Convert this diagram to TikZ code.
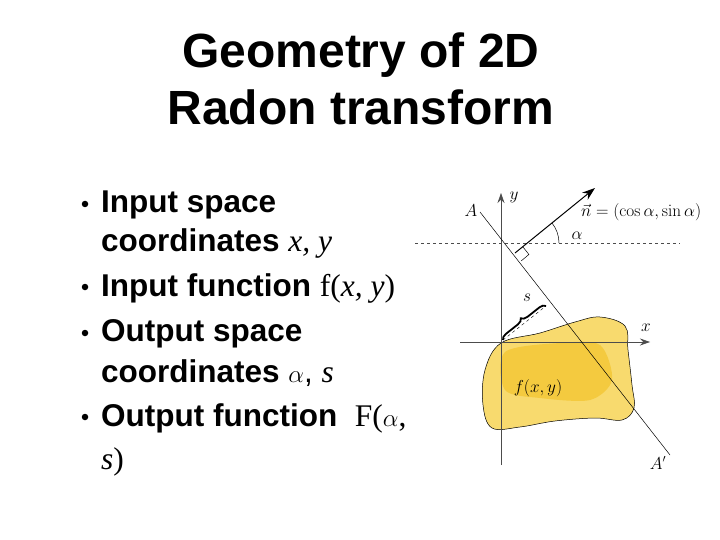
\documentclass[tikz,border=0pt]{standalone}
\usepackage[no-math]{fontspec}
\setmainfont{Liberation Sans}
\newfontfamily\tms{Liberation Serif}
\usetikzlibrary{decorations.pathreplacing,arrows.meta,calc}
\definecolor{blobout}{HTML}{F8DA6E}
\definecolor{blobin}{HTML}{F2C020}
\begin{document}
\begin{tikzpicture}[x=1pt,y=-1pt,
  txt/.style={anchor=west,inner sep=0pt,font=\fontsize{31.5}{34}\bfseries\selectfont},
  bul/.style={circle,fill=black,inner sep=0pt,minimum size=6.5pt},
  ax/.style={draw=black!70,line width=0.6pt,-{Stealth[length=10pt,width=7pt]}},
  lbl/.style={inner sep=1pt,font=\fontsize{16}{18}\selectfont}]
\useasboundingbox (0,0) rectangle (720,540);
\node[font=\fontsize{48}{57}\selectfont\bfseries,align=center] (title) at (361,79) {Geometry of 2D\\Radon transform};
\node[bul] (b1) at (85,204) {};
\node[txt] (l1) at (101,205) {Input space};
\node[txt] (l2) at (101,243) {coordinates \tms\mdseries\itshape x, y};
\node[bul] (b2) at (85,287) {};
\node[txt] (l3) at (101,288) {Input function \tms\mdseries f(\itshape x, y\upshape)};
\node[bul] (b3) at (85,333) {};
\node[txt] (l4) at (101,334) {Output space};
\node[txt] (l5) at (101,373) {coordinates \mdseries$\alpha$, \tms\itshape s};
\node[bul] (b4) at (85,417) {};
\node[txt] (l6) at (101,418) {Output function \ \tms\mdseries F($\alpha$,};
\node[txt] (l7) at (101,462) {\tms\mdseries\itshape s\upshape)};
% blob
\fill[blobout,draw=black,line width=0.5pt] plot[smooth cycle,tension=0.6] coordinates {(501,343)(540,333)(575,322)(600,317)(625,326)(628,350)(632,385)(634,408)(622,420)(595,418)(555,421)(520,427)(492,428)(483,405)(485,370)};
\fill[blobin,opacity=0.6] plot[smooth cycle] coordinates {(505,352)(560,343)(600,345)(612,380)(590,400)(540,398)(505,390)};
\node[lbl] (f) at (538,388) {$f(x,y)$};
% axes
\coordinate (yb) at (501,465); \coordinate (yt) at (501,193);
\coordinate (xl) at (460,342); \coordinate (xr) at (650,342);
\draw[ax] (yb) -- (yt);
\draw[ax] (xl) -- (xr);
\node[lbl] (ylab) at (514,197) {$y$};
\node[lbl] (xlab) at (646,328) {$x$};
% dashed
\coordinate (dl) at (415,243); \coordinate (dr) at (680,243);
\draw[dashed,black!70,line width=0.5pt] (dl) -- (dr);
% line AA'
\coordinate (A) at (480,212); \coordinate (Ap) at (670,455);
\draw[line width=0.5pt] (A) -- (Ap);
\node[lbl] (Al) at (471,211) {$A$};
\node[lbl] (Apl) at (658,463) {$A'$};
% normal
\coordinate (foot) at (515,253); \coordinate (tip) at (595,188);
\draw[line width=1pt,-{Stealth[length=13pt,width=9pt]}] (foot) -- (tip);
\draw[line width=0.5pt] ($(foot)+(7.7,-6.4)$) -- ++(6.2,7.9) -- ($(foot)+(6.2,7.9)$);
\node[lbl,anchor=west,inner sep=0pt] (nl) at (581,212) {$\vec n=(\cos\alpha,\sin\alpha)$};
\draw[line width=0.5pt] (559,243) arc[start angle=0,end angle=-39,radius=32];
\node[lbl] (al) at (577,236) {$\alpha$};
% brace
\coordinate (o) at (503,340); \coordinate (sf) at (546,306);
\draw[dashed,line width=0.4pt] (o) -- (sf);
\draw[decorate,decoration={brace,amplitude=6pt},line width=1.8pt] (o) -- (sf);
\node[lbl] (sl) at (527,298) {$s$};
\end{tikzpicture}
\end{document}
